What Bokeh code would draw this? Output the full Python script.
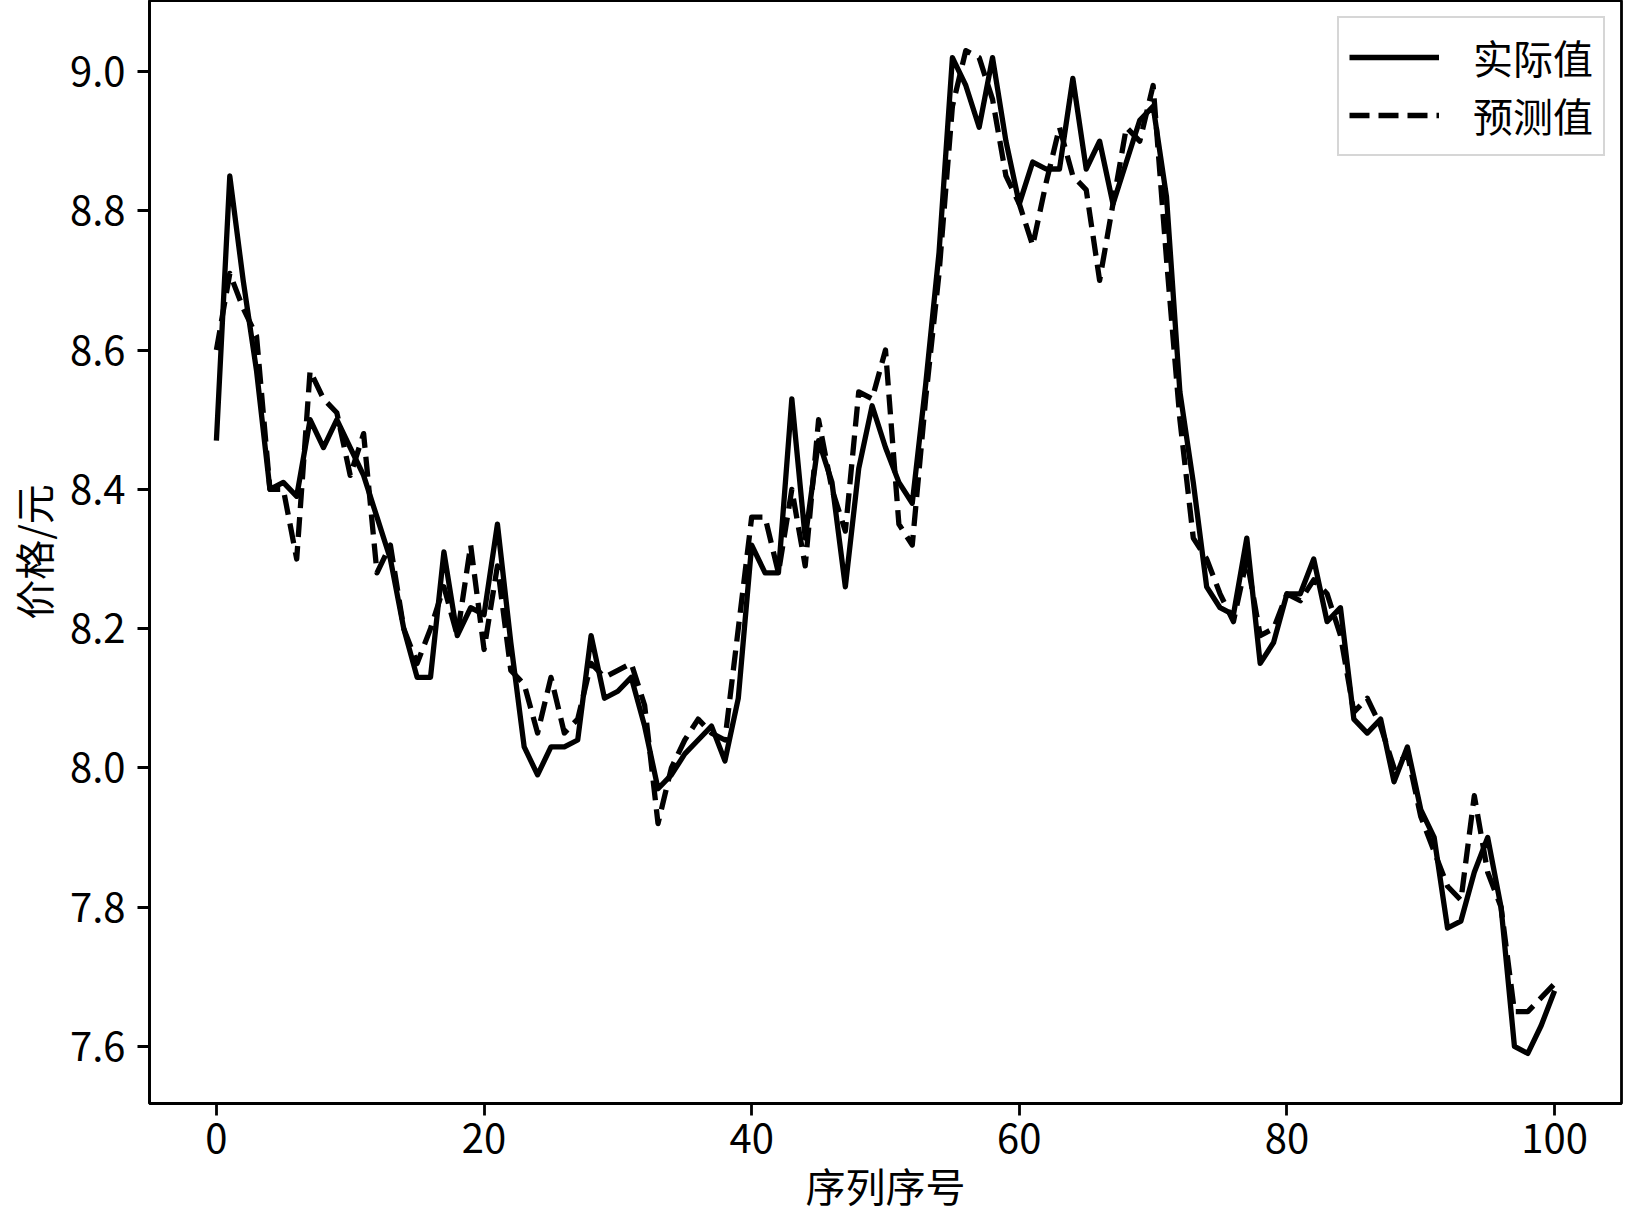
from bokeh.plotting import figure
from bokeh.models import Range1d, FixedTicker, PrintfTickFormatter
from bokeh.embed import file_html
from bokeh.resources import INLINE

# ---- data ----
index = list(range(101))
actual = [8.47, 8.85, 8.70, 8.57, 8.40, 8.41, 8.39, 8.50, 8.46, 8.50,
          8.46, 8.42, 8.36, 8.30, 8.20, 8.13, 8.13, 8.31, 8.19, 8.23,
          8.22, 8.35, 8.18, 8.03, 7.99, 8.03, 8.03, 8.04, 8.19, 8.10,
          8.11, 8.13, 8.06, 7.97, 7.99, 8.02, 8.04, 8.06, 8.01, 8.10,
          8.32, 8.28, 8.28, 8.53, 8.33, 8.47, 8.41, 8.26, 8.43, 8.52,
          8.46, 8.41, 8.38, 8.55, 8.74, 9.02, 8.98, 8.92, 9.02, 8.90,
          8.81, 8.87, 8.86, 8.86, 8.99, 8.86, 8.90, 8.81, 8.87, 8.93,
          8.95, 8.82, 8.54, 8.41, 8.26, 8.23, 8.22, 8.33, 8.15, 8.18,
          8.25, 8.25, 8.30, 8.21, 8.23, 8.07, 8.05, 8.07, 7.98, 8.03,
          7.94, 7.90, 7.77, 7.78, 7.85, 7.90, 7.80, 7.60, 7.59, 7.63, 7.68]
predicted = [8.60, 8.71, 8.66, 8.62, 8.40, 8.40, 8.30, 8.57, 8.53, 8.51,
             8.42, 8.48, 8.28, 8.32, 8.20, 8.15, 8.20, 8.26, 8.19, 8.32,
             8.17, 8.29, 8.14, 8.12, 8.05, 8.13, 8.05, 8.07, 8.15, 8.13,
             8.14, 8.15, 8.09, 7.92, 8.00, 8.04, 8.07, 8.05, 8.04, 8.20,
             8.36, 8.36, 8.28, 8.40, 8.29, 8.50, 8.40, 8.34, 8.54, 8.53,
             8.60, 8.35, 8.32, 8.53, 8.71, 8.95, 9.03, 9.02, 8.96, 8.85,
             8.81, 8.75, 8.84, 8.92, 8.85, 8.83, 8.70, 8.81, 8.92, 8.90,
             8.98, 8.73, 8.50, 8.33, 8.30, 8.25, 8.21, 8.30, 8.19, 8.20,
             8.25, 8.24, 8.27, 8.25, 8.19, 8.08, 8.10, 8.06, 8.00, 8.02,
             7.93, 7.88, 7.83, 7.81, 7.96, 7.85, 7.80, 7.65, 7.65, 7.67, 7.69]
x_ticks = [0, 20, 40, 60, 80, 100]
y_ticks = [7.6, 7.8, 8.0, 8.2, 8.4, 8.6, 8.8, 9.0]
series_labels = ["实际值", "预测值"]
x_title = "序列序号"
y_title = "价格/元"

FONT = "Noto Sans CJK SC"
FS = "40px"

p = figure(width=1623, height=1216, output_backend="svg", toolbar_location=None,
           x_range=Range1d(-5, 105), y_range=Range1d(7.518, 9.102),
           min_border_left=138, min_border_right=2, min_border_top=0,
           min_border_bottom=100)
p.xgrid.visible = False
p.ygrid.visible = False
p.outline_line_color = "black"
p.outline_line_width = 2.8
p.outline_line_alpha = 1.0
p.background_fill_color = "white"
p.border_fill_color = "white"

p.line(index, actual, line_color="black", line_width=5.3, line_join="round",
       legend_label=series_labels[0])
p.line(index, predicted, line_color="black", line_width=5.3, line_join="round",
       line_dash="20 9", legend_label=series_labels[1])

p.xaxis.ticker = FixedTicker(ticks=x_ticks)
p.yaxis.ticker = FixedTicker(ticks=y_ticks)
p.yaxis.formatter = PrintfTickFormatter(format="%.1f")
p.xaxis.axis_label = x_title
p.yaxis.axis_label = y_title

for ax in (p.xaxis, p.yaxis):
    ax.axis_line_width = 2.8
    ax.axis_line_color = "black"
    ax.major_tick_line_width = 2.8
    ax.major_tick_line_color = "black"
    ax.major_tick_out = 12
    ax.major_tick_in = 0
    ax.minor_tick_line_color = None
    ax.major_label_text_font = FONT
    ax.major_label_text_font_size = FS
    ax.major_label_text_color = "black"
    ax.axis_label_text_font = FONT
    ax.axis_label_text_font_size = FS
    ax.axis_label_text_font_style = "normal"
    ax.axis_label_text_color = "black"

p.xaxis.major_label_standoff = 8
p.xaxis.axis_label_standoff = 0
p.yaxis.major_label_standoff = 12
p.yaxis.axis_label_standoff = 5

lg = p.legend[0]
lg.location = "top_right"
lg.label_text_font = FONT
lg.label_text_font_size = FS
lg.label_text_color = "black"
lg.glyph_width = 90
lg.glyph_height = 40
lg.label_height = 40
lg.label_standoff = 34
lg.padding = 10
lg.spacing = 0
lg.margin = 16
lg.border_line_color = "#cccccc"
lg.border_line_width = 2.8
lg.border_line_alpha = 0.8
lg.background_fill_alpha = 0.8

open("out.html", "w").write(file_html(p, INLINE))
